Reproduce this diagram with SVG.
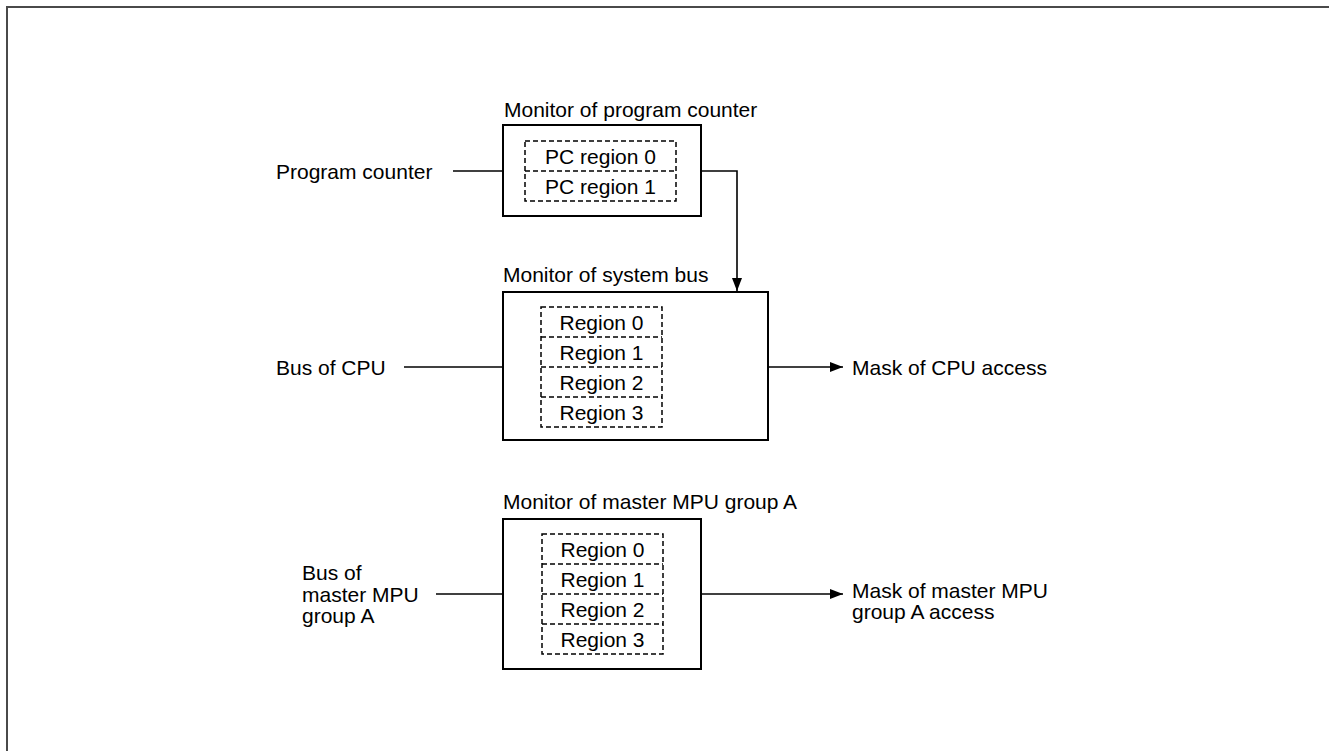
<svg xmlns="http://www.w3.org/2000/svg" width="1329" height="751" viewBox="0 0 1329 751">
<style>
text{font-family:"Liberation Sans",Arial,sans-serif;font-size:21px;fill:#000}
.box{fill:#fff;stroke:#000;stroke-width:2}
.dash{fill:none;stroke:#000;stroke-width:1.5;stroke-dasharray:5,3}
.ln{fill:none;stroke:#000;stroke-width:1.6}
.c{text-anchor:middle}
</style>
<defs>
<marker id="ah" markerWidth="13" markerHeight="10" refX="13" refY="5" orient="auto" markerUnits="userSpaceOnUse">
<path d="M0,0 L13,5 L0,10 Z" fill="#000"/>
</marker>
</defs>
<rect x="7" y="7" width="1340" height="760" fill="#fff" stroke="#4a4a4a" stroke-width="2"/>
<g id="connectors">
<line class="ln" x1="453" y1="171" x2="503" y2="171"/>
<polyline class="ln" points="701,171 737,171 737,291" marker-end="url(#ah)"/>
<line class="ln" x1="404" y1="367" x2="503" y2="367"/>
<line class="ln" x1="768" y1="367" x2="843" y2="367" marker-end="url(#ah)"/>
<line class="ln" x1="436" y1="594" x2="503" y2="594"/>
<line class="ln" x1="701" y1="594" x2="843" y2="594" marker-end="url(#ah)"/>
</g>
<g id="label-program-counter"><text x="276" y="179">Program counter</text></g>
<g id="label-bus-cpu"><text x="276" y="374.5">Bus of CPU</text></g>
<g id="label-bus-mpu"><text x="302" y="580">Bus of</text><text x="302" y="601.5">master MPU</text><text x="302" y="623">group A</text></g>
<g id="label-mask-cpu"><text x="852" y="374.5">Mask of CPU access</text></g>
<g id="label-mask-mpu"><text x="852" y="598">Mask of master MPU</text><text x="852" y="619">group A access</text></g>
<g id="pc-monitor">
<text x="504" y="117">Monitor of program counter</text>
<rect class="box" x="503" y="125" width="198" height="91"/>
<rect class="dash" x="525" y="141" width="151" height="60"/>
<line class="dash" x1="525" y1="171" x2="676" y2="171"/>
<text class="c" x="600.5" y="163.5">PC region 0</text>
<text class="c" x="600.5" y="193.5">PC region 1</text>
</g>
<g id="bus-monitor">
<text x="503" y="282">Monitor of system bus</text>
<rect class="box" x="503" y="292" width="265" height="148"/>
<rect class="dash" x="541" y="307" width="121" height="120"/>
<line class="dash" x1="541" y1="337" x2="662" y2="337"/>
<line class="dash" x1="541" y1="367" x2="662" y2="367"/>
<line class="dash" x1="541" y1="397" x2="662" y2="397"/>
<text class="c" x="601.5" y="329.5">Region 0</text>
<text class="c" x="601.5" y="359.5">Region 1</text>
<text class="c" x="601.5" y="389.5">Region 2</text>
<text class="c" x="601.5" y="419.5">Region 3</text>
</g>
<g id="mpu-monitor">
<text x="503" y="508.5">Monitor of master MPU group A</text>
<rect class="box" x="503" y="519" width="198" height="150"/>
<rect class="dash" x="542" y="534" width="121" height="120"/>
<line class="dash" x1="542" y1="564" x2="663" y2="564"/>
<line class="dash" x1="542" y1="594" x2="663" y2="594"/>
<line class="dash" x1="542" y1="624" x2="663" y2="624"/>
<text class="c" x="602.5" y="556.5">Region 0</text>
<text class="c" x="602.5" y="586.5">Region 1</text>
<text class="c" x="602.5" y="616.5">Region 2</text>
<text class="c" x="602.5" y="646.5">Region 3</text>
</g>
</svg>
